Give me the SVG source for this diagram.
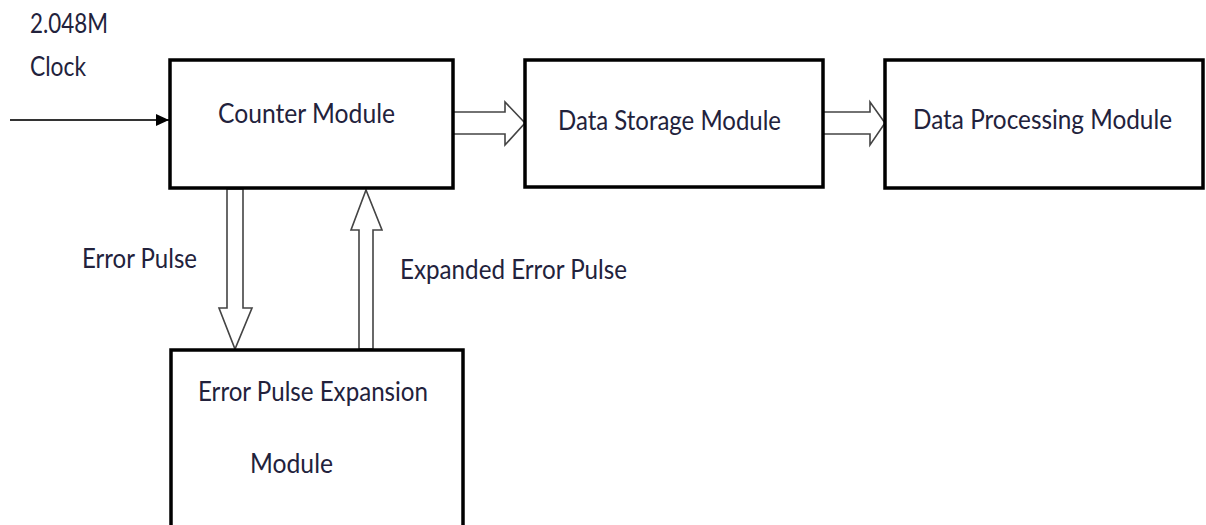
<svg xmlns="http://www.w3.org/2000/svg" width="1206" height="525" viewBox="0 0 1206 525">
<style>
.box{fill:#fff;stroke:#000;stroke-width:3.5}
.t{font-family:Lato,"Liberation Sans",sans-serif;font-size:26px;fill:#22223c}
.ha{fill:#fff;stroke:#444;stroke-width:1.6;stroke-linejoin:miter}
</style>
<defs>
<marker id="tri" markerWidth="13" markerHeight="12" refX="13" refY="6" orient="auto" markerUnits="userSpaceOnUse">
<path d="M0,0 L13,6 L0,12 z" fill="#000"/>
</marker>
</defs>
<rect width="1206" height="525" fill="#fff"/>
<g id="labels">
<text class="t" x="30" y="33" textLength="78" lengthAdjust="spacingAndGlyphs">2.048M</text>
<text class="t" x="30" y="76" textLength="56" lengthAdjust="spacingAndGlyphs">Clock</text>
<text class="t" x="82" y="268" textLength="115" lengthAdjust="spacingAndGlyphs">Error Pulse</text>
<text class="t" x="400" y="279" textLength="227" lengthAdjust="spacingAndGlyphs">Expanded Error Pulse</text>
</g>
<g id="connectors">
<line x1="10" y1="120" x2="169" y2="120" stroke="#333" stroke-width="2" marker-end="url(#tri)"/>
<polygon class="ha" points="453,112 505,112 505,102 525,123 505,145 505,134 453,134"/>
<polygon class="ha" points="823,112 870,112 870,102 885,123 870,145 870,134 823,134"/>
<polygon class="ha" points="227,189 243,189 243,308 252,308 235,349 219,308 227,308"/>
<polygon class="ha" points="359,349 373,349 373,230 382,230 366,190 351,230 359,230"/>
</g>
<g id="counter">
<rect class="box" x="170" y="60" width="283" height="128"/>
<text class="t" x="218" y="123" textLength="177" lengthAdjust="spacingAndGlyphs">Counter Module</text>
</g>
<g id="storage">
<rect class="box" x="525" y="60" width="298" height="127"/>
<text class="t" x="558" y="130" textLength="223" lengthAdjust="spacingAndGlyphs">Data Storage Module</text>
</g>
<g id="processing">
<rect class="box" x="885" y="60" width="318" height="128"/>
<text class="t" x="913" y="129" textLength="259" lengthAdjust="spacingAndGlyphs">Data Processing Module</text>
</g>
<g id="expansion">
<rect class="box" x="171" y="350" width="292" height="190"/>
<text class="t" x="198" y="401" textLength="230" lengthAdjust="spacingAndGlyphs">Error Pulse Expansion</text>
<text class="t" x="250" y="473" textLength="83" lengthAdjust="spacingAndGlyphs">Module</text>
</g>
</svg>
